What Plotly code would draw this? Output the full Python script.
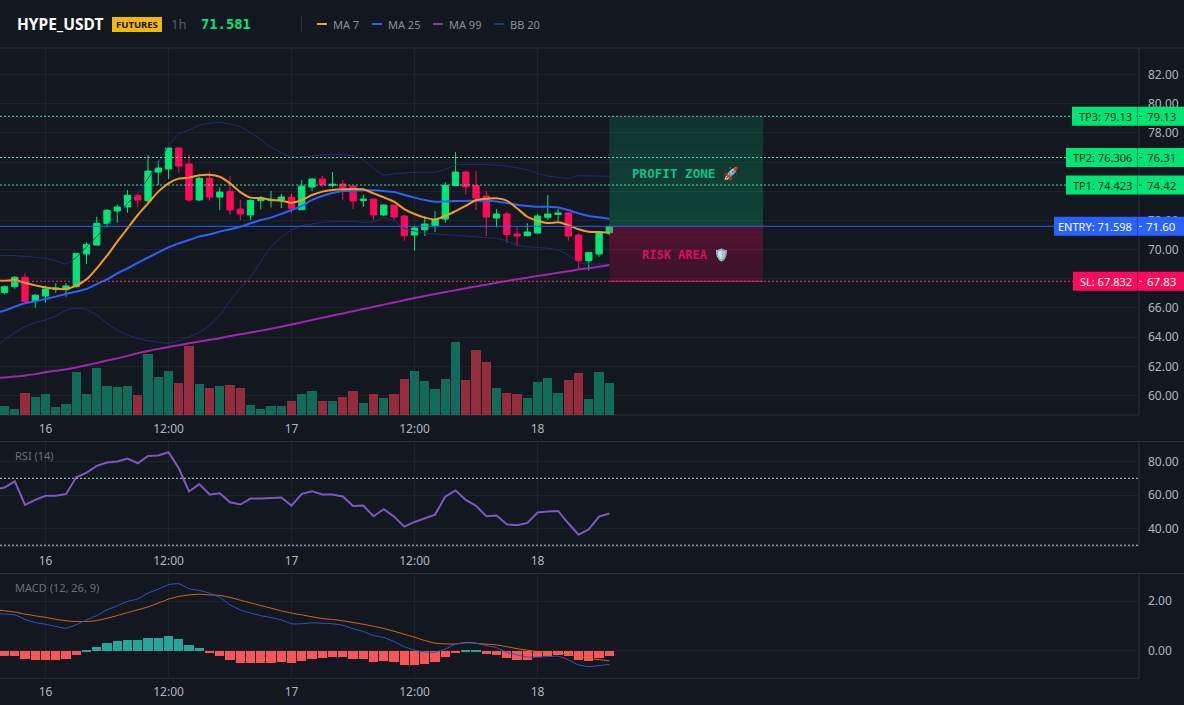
import plotly.graph_objects as go

# ---- market data: hourly candles, hours counted from the 16th 00:00 ----
candle_hours = list(range(-4, 56))
opens = [67.05, 67.46, 68.10, 66.50, 66.82, 67.28, 67.28, 67.46, 69.70, 70.31,
         71.80, 72.64, 72.92, 73.72, 73.35, 75.31, 75.52, 76.96, 75.86, 73.40,
         74.88, 73.60, 73.99, 72.78, 72.37, 73.35, 73.37, 73.40, 73.58, 72.73,
         74.29, 74.83, 74.40, 74.49, 74.35, 73.35, 73.46, 72.37, 73.05, 72.30,
         71.00, 71.36, 71.64, 72.09, 74.38, 75.31, 74.38, 73.67, 72.16, 72.44,
         71.07, 70.95, 71.14, 72.21, 72.41, 72.51, 71.00, 69.24, 69.70, 71.16]
highs = [67.53, 68.19, 68.37, 66.96, 67.53, 67.69, 67.69, 69.74, 70.50, 72.25,
         72.78, 73.10, 74.08, 73.90, 76.48, 76.09, 76.96, 76.96, 76.48, 74.99,
         75.34, 74.26, 75.04, 73.40, 73.44, 73.67, 74.01, 73.81, 73.85, 74.77,
         74.93, 75.04, 75.31, 74.77, 74.35, 73.78, 73.46, 73.10, 73.05, 72.41,
         71.64, 72.30, 72.64, 74.61, 76.68, 75.43, 75.38, 74.01, 72.78, 72.60,
         71.57, 71.80, 72.44, 73.74, 72.78, 72.51, 71.11, 69.81, 71.23, 71.65]
lows = [66.96, 67.32, 66.36, 66.02, 66.36, 67.05, 66.78, 67.39, 69.01, 70.31,
        71.50, 71.84, 72.53, 72.89, 73.21, 74.42, 74.83, 75.27, 73.28, 73.33,
        73.35, 72.71, 72.39, 72.03, 72.03, 72.76, 72.89, 72.85, 72.48, 72.71,
        74.01, 74.31, 74.26, 73.40, 72.78, 72.92, 72.03, 72.30, 72.03, 70.61,
        69.93, 70.93, 71.20, 71.84, 74.35, 73.76, 72.71, 70.93, 71.52, 70.47,
        70.20, 70.91, 71.07, 72.05, 71.93, 70.61, 68.60, 68.56, 69.51, 71.00]
closes = [67.46, 68.10, 66.43, 66.87, 67.30, 67.37, 67.51, 69.74, 70.36, 71.80,
          72.69, 72.92, 73.72, 73.40, 75.38, 75.59, 76.96, 75.72, 73.40, 74.88,
          73.60, 73.94, 72.71, 72.44, 73.37, 73.56, 73.44, 73.60, 72.83, 74.35,
          74.83, 74.45, 74.47, 74.26, 73.33, 73.46, 72.37, 73.05, 72.23, 70.95,
          71.48, 71.75, 72.03, 74.40, 75.31, 74.31, 73.53, 72.23, 72.44, 71.04,
          70.93, 71.20, 72.30, 72.44, 72.51, 70.93, 69.24, 69.81, 71.16, 71.58]
volumes = [27, 18, 66, 54, 63, 24, 33, 130, 63, 142,
           87, 84, 87, 60, 183, 114, 132, 96, 207, 93,
           81, 87, 90, 82, 30, 18, 27, 27, 42, 63,
           72, 42, 42, 54, 72, 36, 63, 51, 63, 108,
           132, 102, 78, 108, 219, 105, 195, 159, 81, 66,
           63, 51, 99, 111, 66, 105, 126, 48, 129, 96]

# indicator lines carry one extra leading hour so they run off the left edge
line_hours = list(range(-5, 56))
ma7 = [67.87, 67.87, 67.92, 67.73, 67.55, 67.41, 67.32, 67.30, 67.53, 67.96, 68.72,
       69.58, 70.54, 71.46, 72.37, 73.17, 73.97, 74.54, 74.86, 74.93, 75.09,
       75.13, 74.99, 74.54, 73.94, 73.56, 73.53, 73.40, 73.35, 73.21, 73.40,
       73.74, 73.97, 74.08, 74.13, 74.15, 74.13, 73.85, 73.58, 73.28, 72.78,
       72.44, 72.19, 72.07, 72.30, 72.64, 72.99, 73.40, 73.49, 73.51, 73.35,
       72.83, 72.25, 71.98, 71.82, 71.87, 71.68, 71.39, 71.23, 71.20, 71.14]
ma25 = [65.66, 65.82, 66.09, 66.32, 66.46, 66.62, 66.78, 66.96, 67.12, 67.30, 67.64,
        67.96, 68.37, 68.72, 69.10, 69.45, 69.81, 70.15, 70.43, 70.66, 70.89,
        71.04, 71.23, 71.39, 71.57, 71.80, 72.03, 72.19, 72.44, 72.71, 72.99,
        73.40, 73.67, 73.88, 74.01, 74.03, 74.06, 74.06, 74.01, 73.94, 73.74,
        73.56, 73.40, 73.28, 73.30, 73.33, 73.33, 73.35, 73.35, 73.30, 73.19,
        73.08, 72.99, 72.94, 72.94, 72.89, 72.71, 72.48, 72.30, 72.21, 72.12]
ma99 = [61.18, 61.24, 61.30, 61.38, 61.47, 61.60, 61.70, 61.80, 61.93, 62.08, 62.23,
        62.40, 62.55, 62.72, 62.90, 63.06, 63.20, 63.33, 63.45, 63.58, 63.70,
        63.82, 63.93, 64.08, 64.20, 64.32, 64.45, 64.58, 64.72, 64.87, 65.02,
        65.18, 65.33, 65.48, 65.63, 65.78, 65.93, 66.08, 66.23, 66.38, 66.53,
        66.69, 66.82, 66.96, 67.09, 67.22, 67.35, 67.48, 67.60, 67.73, 67.85,
        67.97, 68.08, 68.20, 68.30, 68.41, 68.52, 68.63, 68.73, 68.83, 68.95]
bb_upper = [69.62, 69.61, 69.58, 69.54, 69.47, 69.40, 69.24, 69.01, 69.47, 70.20, 70.89,
            71.68, 72.37, 73.17, 73.85, 74.88, 75.91, 77.16, 77.92, 78.19, 78.53,
            78.65, 78.72, 78.60, 78.42, 78.01, 77.55, 77.00, 76.64, 76.36, 76.36,
            76.41, 76.50, 76.50, 76.52, 76.43, 76.14, 75.56, 75.11, 75.18, 75.25,
            75.29, 75.29, 75.31, 75.50, 75.79, 75.84, 75.84, 75.82, 75.79, 75.72,
            75.61, 75.45, 75.22, 75.04, 74.95, 74.88, 75.06, 75.04, 75.04, 75.02]
bb_lower = [63.30, 63.81, 64.31, 64.72, 65.00, 65.18, 65.45, 65.86, 65.98, 65.91, 65.52,
            64.95, 64.49, 64.15, 63.92, 63.76, 63.65, 63.58, 63.76, 64.04, 64.31,
            64.83, 65.52, 66.50, 67.35, 68.15, 69.17, 70.20, 70.84, 71.34, 71.64,
            71.75, 71.87, 71.91, 71.93, 71.93, 71.87, 71.91, 72.19, 71.98, 71.46,
            71.27, 71.11, 71.07, 71.02, 70.98, 70.93, 70.88, 70.82, 70.77, 70.59,
            70.31, 70.20, 70.15, 70.09, 69.97, 69.63, 69.10, 69.01, 69.01, 68.99]
rsi = [63.0, 64.5, 68.2, 54.1, 57.1, 59.5, 59.5, 60.5, 70.6, 73.4, 77.4,
       79.4, 80.0, 81.8, 79.0, 83.4, 83.6, 85.6, 76.0, 62.1, 66.5,
       60.3, 61.1, 55.7, 54.3, 57.9, 57.9, 58.1, 58.5, 53.7, 60.7,
       62.3, 60.3, 60.3, 59.1, 53.5, 53.7, 47.3, 51.5, 47.1, 41.1,
       43.9, 45.9, 48.3, 59.1, 62.7, 57.1, 53.5, 47.3, 47.7, 42.5,
       41.9, 43.3, 49.5, 50.1, 50.5, 43.1, 36.3, 39.5, 47.1, 48.9]
macd_line = [1.50, 1.48, 1.45, 1.27, 1.14, 1.07, 0.98, 0.91, 1.05, 1.25, 1.42,
             1.65, 1.81, 1.99, 2.09, 2.32, 2.48, 2.66, 2.70, 2.50, 2.43,
             2.32, 2.15, 1.85, 1.65, 1.52, 1.42, 1.34, 1.25, 1.09, 1.09,
             1.13, 1.11, 1.09, 1.03, 0.89, 0.78, 0.62, 0.54, 0.38, 0.17,
             0.03, -0.04, -0.05, 0.08, 0.27, 0.32, 0.31, 0.21, 0.13, -0.05,
             -0.16, -0.25, -0.25, -0.23, -0.21, -0.36, -0.56, -0.63, -0.59, -0.54]
macd_signal = [1.68, 1.61, 1.56, 1.48, 1.41, 1.35, 1.27, 1.21, 1.18, 1.18, 1.22,
               1.31, 1.42, 1.54, 1.65, 1.77, 1.92, 2.08, 2.19, 2.25, 2.28,
               2.25, 2.23, 2.15, 2.04, 1.93, 1.82, 1.72, 1.61, 1.52, 1.45,
               1.37, 1.30, 1.26, 1.21, 1.14, 1.07, 0.99, 0.90, 0.79, 0.67,
               0.55, 0.42, 0.31, 0.28, 0.28, 0.34, 0.31, 0.27, 0.24, 0.17,
               0.09, 0.03, -0.03, -0.05, -0.08, -0.13, -0.23, -0.30, -0.35, -0.40]
macd_hist = [-0.20, -0.20, -0.32, -0.36, -0.36, -0.36, -0.32, -0.16, 0.03, 0.16,
             0.32, 0.40, 0.44, 0.44, 0.52, 0.52, 0.60, 0.48, 0.24, 0.12,
             -0.08, -0.20, -0.36, -0.48, -0.48, -0.48, -0.48, -0.44, -0.48, -0.40,
             -0.32, -0.28, -0.24, -0.24, -0.32, -0.32, -0.44, -0.40, -0.44, -0.56,
             -0.56, -0.52, -0.44, -0.24, -0.04, 0.04, 0.04, -0.12, -0.16, -0.28,
             -0.36, -0.36, -0.24, -0.20, -0.16, -0.20, -0.36, -0.40, -0.28, -0.20]

# trade levels
tp3, tp2, tp1 = 79.13, 76.306, 74.423
entry, stop = 71.598, 67.832

time_ticks = [0, 12, 24, 36, 48]
time_labels = ["16", "12:00", "17", "12:00", "18"]
price_ticks = list(range(60, 84, 2))
# labels sitting fully under a level tag stay blank
price_labels = ["" if p in (68, 74, 76) else f"{p:.2f}" for p in price_ticks]
rsi_ticks = [40, 60, 80]
rsi_labels = ["40.00", "60.00", "80.00"]
macd_ticks = [0, 2]
macd_labels = ["0.00", "2.00"]

# ---- styling ----
W, H = 1184, 705
BG = "#131720"
GRID = "#1e222d"
BORDER = "#2a2e39"
TICK = "#b2b5be"
MUTED = "#6b6f7b"
GREEN = "#00e676"
PINK = "#ff0a5a"
BLUE = "#2962ff"
FONT = "Noto Sans, sans-serif"
MONO = "DejaVu Sans Mono, monospace"


def fx(px):
    return px / W


def fy(py):
    return 1 - py / H


AXIS_END = fx(1139)
X_RANGE = [-4.44, 106.67]

fig = go.Figure()

# volume sits on the base axis so the price traces draw over it
fig.add_bar(
    x=candle_hours, y=volumes, width=0.9, xaxis="x", yaxis="y",
    marker=dict(color=["#106b5b" if c >= o else "#932c3d" for o, c in zip(opens, closes)],
                line_width=0),
)
for values in (bb_upper, bb_lower):
    fig.add_scatter(x=line_hours, y=values, mode="lines", xaxis="x", yaxis="y2",
                    line=dict(color="#1e2f6e", width=1, shape="spline", smoothing=0.5))
fig.add_candlestick(
    x=candle_hours, open=opens, high=highs, low=lows, close=closes, xaxis="x", yaxis="y2",
    whiskerwidth=0,
    increasing=dict(line=dict(color=GREEN, width=1), fillcolor=GREEN),
    decreasing=dict(line=dict(color=PINK, width=1), fillcolor=PINK),
)
for values, color in [(ma99, "#9c27b0"), (ma25, "#2962ff"), (ma7, "#f39c1f")]:
    fig.add_scatter(x=line_hours, y=values, mode="lines", xaxis="x", yaxis="y2",
                    line=dict(color=color, width=2, shape="spline", smoothing=0.6))

fig.add_scatter(x=line_hours, y=rsi, mode="lines", xaxis="x2", yaxis="y3",
                line=dict(color="#7e57c2", width=2))

fig.add_bar(
    x=candle_hours, y=macd_hist, width=0.9, xaxis="x3", yaxis="y4",
    marker=dict(color=["#26a69a" if v >= 0 else "#f85656" for v in macd_hist], line_width=0),
)
fig.add_scatter(x=line_hours, y=macd_signal, mode="lines", xaxis="x3", yaxis="y4",
                line=dict(color="#d9691b", width=1, shape="spline", smoothing=0.5))
fig.add_scatter(x=line_hours, y=macd_line, mode="lines", xaxis="x3", yaxis="y4",
                line=dict(color="#2f55c8", width=1, shape="spline", smoothing=0.5))

shapes = []

# reward and risk zones, built from stacked translucent bands to shade them
BANDS = 14
for i in range(BANDS):
    t = i / BANDS
    shapes.append(dict(
        type="rect", xref="x", yref="y2", x0=55, x1=70, layer="above", line_width=0,
        y0=tp3 + (entry - tp3) * t, y1=tp3 + (entry - tp3) * (i + 1) / BANDS,
        fillcolor=f"rgba(0,220,130,{0.15 + 0.09 * t:.3f})",
    ))
    shapes.append(dict(
        type="rect", xref="x", yref="y2", x0=55, x1=70, layer="above", line_width=0,
        y0=entry + (stop - entry) * t, y1=entry + (stop - entry) * (i + 1) / BANDS,
        fillcolor=f"rgba(255,10,90,{0.275 - 0.115 * t:.3f})",
    ))
shapes.append(dict(type="line", xref="x", yref="y2", x0=55, x1=70, y0=stop, y1=stop,
                   layer="above", line=dict(color=PINK, width=1)))

# horizontal trade level lines across the price pane
for level, color, dash in [(tp3, "#45e6ac", "2px,2px"), (tp2, "#45e6ac", "2px,2px"), (tp1, "#45e6ac", "2px,2px"),
                           (entry, BLUE, "solid"), (stop, "#ee2f72", "2px,2px")]:
    shapes.append(dict(type="line", xref="paper", yref="y2", x0=0, x1=AXIS_END, y0=level, y1=level,
                       layer="above", line=dict(color=color, width=1, dash=dash)))

# RSI overbought and oversold guides
for level in (70, 30):
    shapes.append(dict(type="line", xref="paper", yref="y3", x0=0, x1=AXIS_END, y0=level, y1=level,
                       layer="above", line=dict(color="#c8ccd4", width=1, dash="2px,2px")))

# pane separators and the price scale border
for py in (48, 441.5, 573.5):
    shapes.append(dict(type="line", xref="paper", yref="paper", x0=0, x1=1, y0=fy(py), y1=fy(py),
                       layer="below", line=dict(color=BORDER, width=1)))
for top, bottom in [(48, 415), (441.5, 546.7), (573.5, 678.3)]:
    shapes.append(dict(type="line", xref="paper", yref="paper", x0=AXIS_END, x1=AXIS_END,
                       y0=fy(top), y1=fy(bottom), layer="below", line=dict(color=BORDER, width=1)))
    shapes.append(dict(type="line", xref="paper", yref="paper", x0=0, x1=AXIS_END,
                       y0=fy(bottom), y1=fy(bottom), layer="below", line=dict(color=BORDER, width=1)))

# header: divider, futures badge and legend swatches
shapes.append(dict(type="line", xref="paper", yref="paper", x0=fx(301.5), x1=fx(301.5),
                   y0=fy(16), y1=fy(32), line=dict(color=BORDER, width=1)))
shapes.append(dict(type="rect", xref="paper", yref="paper", x0=fx(112), x1=fx(162),
                   y0=fy(17), y1=fy(32), fillcolor="#f0b90b", line_width=0))
legend_items = [("MA 7", "#f39c1f", 317), ("MA 25", "#2962ff", 372), ("MA 99", "#8e3aa8", 433), ("BB 20", "#24356f", 494)]
for _, color, left in legend_items:
    shapes.append(dict(type="line", xref="paper", yref="paper", x0=fx(left), x1=fx(left + 10),
                       y0=fy(24), y1=fy(24), line=dict(color=color, width=2)))


def chrome_text(text, px, py, size, color, font=FONT, anchor="left", weight=None):
    return dict(text=text, xref="paper", yref="paper", x=fx(px), y=fy(py), xanchor=anchor, yanchor="middle",
                showarrow=False, font=dict(family=font, size=size, color=color, weight=weight))


annotations = [
    chrome_text("HYPE_USDT", 14.5, 24, 15.5, "#ffffff", weight="bold"),
    chrome_text("FUTURES", 137, 24.5, 9.5, "#1a1400", anchor="center", weight="bold"),
    chrome_text("1h", 168.5, 24, 13, "#565b68"),
    chrome_text("71.581", 199, 24, 13.8, GREEN, font=MONO, weight="bold"),
    chrome_text("RSI (14)", 13, 455, 11, MUTED),
    chrome_text("MACD (12, 26, 9)", 13, 587, 11, MUTED),
]
for label, _, left in legend_items:
    annotations.append(chrome_text(label, left + 14, 24, 11, "#8b909c"))

# zone captions stay tied to the zone centres
annotations.append(dict(text="PROFIT ZONE 🚀", xref="x", yref="y2", x=62.4, y=(tp3 + entry) / 2, yshift=-2,
                        showarrow=False, font=dict(family=MONO, size=12.6, color="#10c284", weight="bold")))
annotations.append(dict(text="RISK AREA 🛡️", xref="x", yref="y2", x=62.4, y=(entry + stop) / 2, yshift=-1,
                        showarrow=False, font=dict(family=MONO, size=12, color="#d80f55", weight="bold")))

# level tags on the price scale: filled bars tied to the level, then their captions
TAG_RIGHT = 1184
tags = [
    (f"TP3: {tp3:.2f}", f"{tp3:.2f}", tp3, GREEN, "#10281c", 1072),
    (f"TP2: {tp2:.3f}", f"{tp2:.2f}", tp2, GREEN, "#10281c", 1066),
    (f"TP1: {tp1:.3f}", f"{tp1:.2f}", tp1, GREEN, "#10281c", 1066),
    (f"ENTRY: {entry:.3f}", f"{entry:.2f}", entry, BLUE, "#ffffff", 1054),
    (f"SL: {stop:.3f}", f"{stop:.2f}", stop, PINK, "#ffffff", 1073),
]
for name, price, level, fill, ink, left in tags:
    shapes.append(dict(type="rect", xref="paper", yref="y2", ysizemode="pixel", yanchor=level,
                       x0=fx(left), x1=fx(TAG_RIGHT), y0=-9.5, y1=9.5, layer="above",
                       fillcolor=fill, line_width=0))
    shapes.append(dict(type="line", xref="paper", yref="y2", ysizemode="pixel", yanchor=level,
                       x0=fx(1137.5), x1=fx(1137.5), y0=-9.5, y1=9.5, layer="above",
                       line=dict(color="rgba(20,24,32,0.35)", width=1)))
    shapes.append(dict(type="line", xref="paper", yref="y2", x0=fx(1139), x1=fx(1142), y0=level, y1=level,
                       layer="above", line=dict(color=ink, width=1)))
    annotations.append(dict(text=name, xref="paper", yref="y2", x=fx(1133.5), y=level, xanchor="right",
                            showarrow=False, font=dict(family=FONT, size=11, color=ink)))
    annotations.append(dict(text=price, xref="paper", yref="y2", x=fx(1161), y=level, xanchor="center",
                            showarrow=False, font=dict(family=FONT, size=11.5, color=ink)))

x_common = dict(
    range=X_RANGE, tickmode="array", tickvals=time_ticks, ticktext=time_labels,
    showgrid=True, gridcolor=GRID, gridwidth=1, zeroline=False, showline=False, ticks="",
    ticklabelstandoff=5,
    tickfont=dict(family=FONT, size=12, color=TICK), fixedrange=True, rangeslider=dict(visible=False),
)
y_common = dict(
    side="right", showgrid=True, gridcolor=GRID, gridwidth=1, zeroline=False, showline=False,
    ticks="", tickfont=dict(family=FONT, size=12, color=TICK),
    ticklabelstandoff=8, fixedrange=True, tickmode="array",
)

fig.update_layout(
    width=W, height=H, autosize=False,
    margin=dict(l=0, r=0, t=0, b=0),
    paper_bgcolor=BG, plot_bgcolor=BG,
    showlegend=False, bargap=0, barmode="overlay",
    boxgap=0.2, boxgroupgap=0.23,
    hovermode=False,
    xaxis=dict(domain=[0, AXIS_END], anchor="y", **x_common),
    xaxis2=dict(domain=[0, AXIS_END], anchor="y3", **x_common),
    xaxis3=dict(domain=[0, AXIS_END], anchor="y4", **x_common),
    yaxis=dict(domain=[fy(415), fy(48)], anchor="x", range=[0, 1101], visible=False, fixedrange=True),
    yaxis2=dict(overlaying="y", anchor="x", range=[58.67, 83.81], tickvals=price_ticks, ticktext=price_labels, **y_common),
    yaxis3=dict(domain=[fy(546.7), fy(441.5)], anchor="x2", range=[29.1, 92], tickvals=rsi_ticks, ticktext=rsi_labels, **y_common),
    yaxis4=dict(domain=[fy(678.3), fy(573.5)], anchor="x3", range=[-1.10, 3.11], tickvals=macd_ticks, ticktext=macd_labels, **y_common),
    shapes=shapes, annotations=annotations,
)

fig.write_html("out.html", config=dict(displayModeBar=False))
